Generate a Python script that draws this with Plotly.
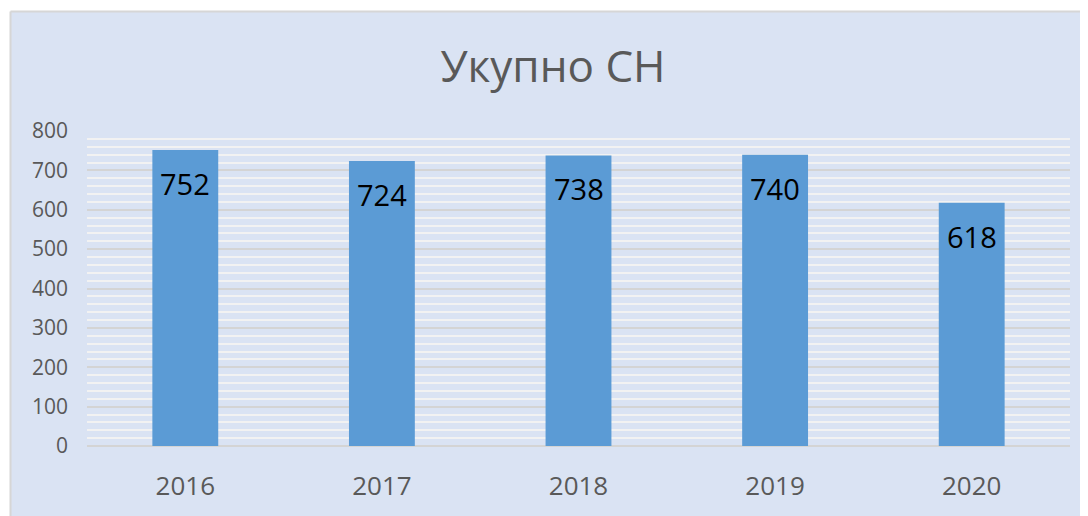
import plotly.graph_objects as go

years = ["2016", "2017", "2018", "2019", "2020"]
values = [752, 724, 738, 740, 618]
y_ticks = [0, 100, 200, 300, 400, 500, 600, 700, 800]
title_text = "Укупно СН"

# page body has an 8px margin, so the figure is drawn 8px in from the corner
OFF = 8
W, H = 1088 - OFF, 516 - OFF
ml, mr, mt, mb = 87 - OFF, 18, 131 - OFF, 70
pw, ph = W - ml - mr, H - mt - mb

FONT = "Open Sans"
GREY = "#595959"

fig = go.Figure()
fig.add_trace(go.Bar(
    x=years, y=values, width=0.335,
    marker=dict(color="#5B9BD5", line=dict(width=0)),
    hoverinfo="skip",
))

# data labels: on a category axis, annotation x is the category index
for i, v in enumerate(values):
    fig.add_annotation(x=i, y=v, text=str(v), showarrow=False,
                       xref="x", yref="y",
                       yanchor="top", yshift=-12,
                       font=dict(family=FONT, size=29, color="#000000"))

# chart area background with grey top/left border
bx0 = (10.5 - OFF - ml) / pw
by1 = (H - mb - (11.5 - OFF)) / ph
bx1 = (W + 5 - ml) / pw
by0 = -(mb + 5) / ph
fig.add_shape(type="rect", xref="paper", yref="paper",
              x0=bx0, x1=bx1, y0=by0, y1=by1,
              fillcolor="#DAE3F3", line=dict(width=0), layer="below")
fig.add_shape(type="line", xref="paper", yref="paper",
              x0=bx0, x1=bx1, y0=by1, y1=by1,
              line=dict(color="#D6D6D6", width=2), layer="below")
fig.add_shape(type="line", xref="paper", yref="paper",
              x0=bx0, x1=bx0, y0=by0, y1=by1,
              line=dict(color="#D6D6D6", width=2), layer="below")

fig.update_layout(
    width=W, height=H,
    margin=dict(l=ml, r=mr, t=mt, b=mb, autoexpand=False),
    paper_bgcolor="#FFFFFF",
    plot_bgcolor="rgba(0,0,0,0)",
    showlegend=False,
    bargap=0.665,
    title=dict(text=title_text, x=(553 - OFF) / W, xref="container",
               y=(H - (67 - OFF)) / H,
               yanchor="middle", xanchor="center",
               font=dict(family=FONT, size=44, color=GREY)),
    xaxis=dict(type="category", range=[-0.5, len(years) - 0.5],
               showgrid=False, showline=False, zeroline=False,
               tickfont=dict(family=FONT, size=26, color=GREY),
               ticks="", ticklabelstandoff=22, fixedrange=True),
    yaxis=dict(range=[0, 800], tickvals=y_ticks,
               showgrid=True, gridcolor="#D4D4D4", gridwidth=2,
               zeroline=True, zerolinecolor="#D4D4D4", zerolinewidth=2,
               showline=False,
               minor=dict(dtick=20, showgrid=True, gridcolor="#F2F2F2",
                          gridwidth=2, ticks=""),
               tickfont=dict(family=FONT, size=21, color=GREY),
               ticks="", ticklabelstandoff=18, fixedrange=True),
)

fig.write_html("out.html")
